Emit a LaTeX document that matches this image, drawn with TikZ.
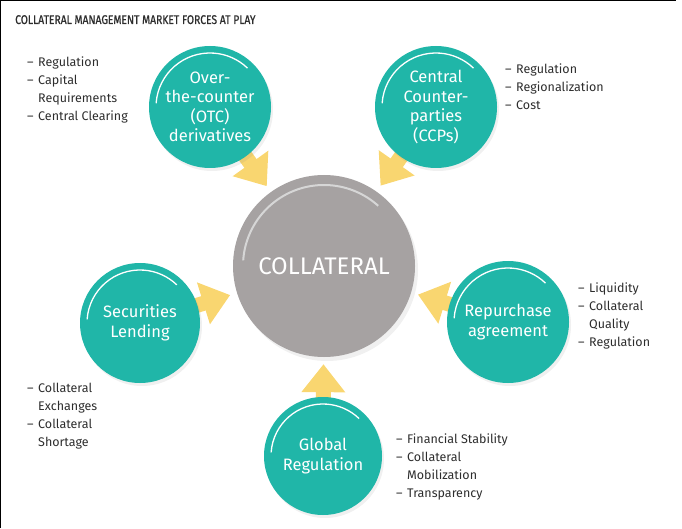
\documentclass[tikz,border=0pt]{standalone}
\usepackage{fontspec}
\setmainfont{Fira Sans}
\newfontfamily\titlefont[FakeStretch=0.82, FakeBold=0.8]{Fira Sans}
\usetikzlibrary{positioning, arrows.meta, backgrounds, shadows}

\definecolor{tealC}{RGB}{32,182,168}
\definecolor{grayC}{RGB}{166,162,162}
\definecolor{arrowY}{RGB}{249,214,112}
\definecolor{textC}{RGB}{45,45,45}

\newcommand{\itm}{\makebox[11pt][l]{–}}
\newcommand{\cont}{\hspace*{11pt}}

\begin{document}
\begin{tikzpicture}[x=1pt, y=1pt]

% Styles
\tikzset{
    force/.style={circle, fill=tealC, minimum size=122pt, inner sep=0pt, text=white, align=center,
        font=\fontsize{16.5}{19.5}\selectfont,
        drop shadow={opacity=0.12, shadow xshift=2pt, shadow yshift=-3pt}},
    core/.style={circle, fill=grayC, minimum size=182pt, inner sep=0pt, text=white,
        font=\fontsize{24}{28}\selectfont,
        drop shadow={opacity=0.12, shadow xshift=3pt, shadow yshift=-4pt}},
    itemlist/.style={anchor=north west, inner sep=0pt, align=left, text=textC,
        font=\fontsize{12.5}{18}\selectfont},
    push/.style={draw=arrowY, line width=15pt, -{Triangle[length=28pt, width=42pt]},
        shorten >=7pt, shorten <=-10pt},
    gleam/.style={white, line width=1.3pt}
}

\useasboundingbox (0,0) rectangle (682,528);
\draw[black, line width=1.3pt] (0.65,0) -- (0.65,527.35) -- (676,527.35);

% Title
\node[anchor=base west, inner sep=0pt, text=textC, font=\titlefont\fontsize{12.6}{14}\selectfont]
    (title) at (15,504) {COLLATERAL MANAGEMENT MARKET FORCES AT PLAY};

% Circles
\node[core] (collateral) at (324,262) {COLLATERAL};
\node[force] (otcDeriv) at (210,421) {Over-\\the-counter\\(OTC)\\derivatives};
\node[force] (centralCP) at (436,421) {Central\\Counter-\\parties\\(CCPs)};
\node[force, minimum size=120pt] (secLending) at (140,205) {Securities\\Lending};
\node[force] (repoAgree) at (508,206) {Repurchase\\agreement};
\node[force, minimum size=118pt] (globalReg) at (323,72) {Global\\Regulation};

% Highlights
\foreach \c/\r in {otcDeriv/54, centralCP/54, secLending/53, repoAgree/54, globalReg/52}
    \draw[gleam] (\c.center) ++(176:\r) arc[start angle=176, end angle=46, radius=\r];
\draw[gleam, draw=black!16, line width=2pt] (collateral.center) ++(176:81)
    arc[start angle=176, end angle=48, radius=81];

% Lists
\node[itemlist] (otcList) at (27,471)
    {\itm Regulation\\\itm Capital\\\cont Requirements\\\itm Central Clearing};
\node[itemlist] (ccpList) at (505,464)
    {\itm Regulation\\\itm Regionalization\\\itm Cost};
\node[itemlist] (repoList) at (578,245)
    {\itm Liquidity\\\itm Collateral\\\cont Quality\\\itm Regulation};
\node[itemlist] (secList) at (27,145)
    {\itm Collateral\\\cont Exchanges\\\itm Collateral\\\cont Shortage};
\node[itemlist] (globalList) at (396,94)
    {\itm Financial Stability\\\itm Collateral\\\cont Mobilization\\\itm Transparency};

% Arrows
\begin{scope}[on background layer]
\draw[push] (otcDeriv) -- (collateral);
\draw[push] (centralCP) -- (collateral);
\draw[push] (secLending) -- (collateral);
\draw[push] (repoAgree) -- (collateral);
\draw[push] (globalReg) -- (collateral);
\end{scope}

\end{tikzpicture}
\end{document}
